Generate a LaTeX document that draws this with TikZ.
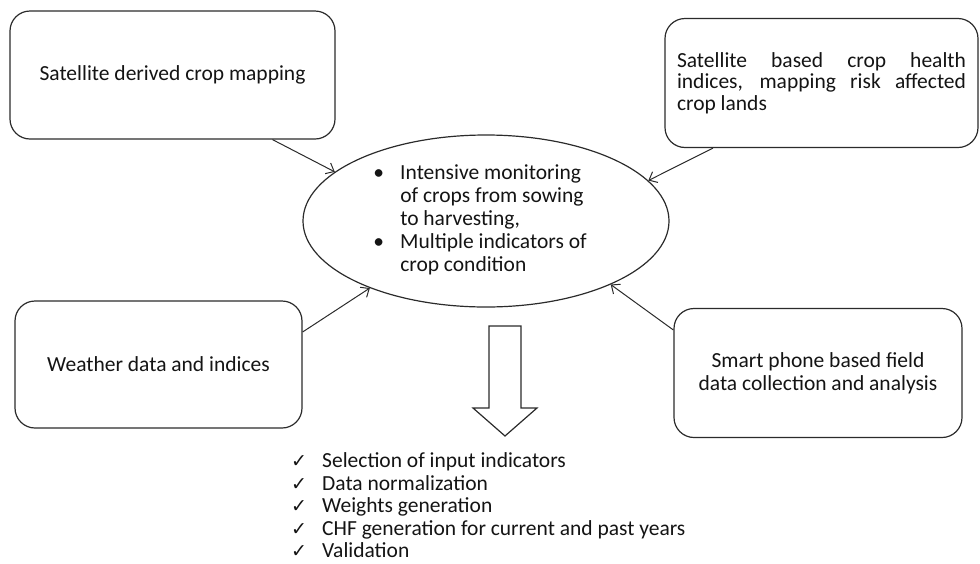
\documentclass[tikz,border=0pt]{standalone}
\usepackage{fontspec}
\setmainfont{Carlito}
\newfontfamily\tickfont{DejaVu Sans}
\usetikzlibrary{arrows.meta,shapes.geometric}
\definecolor{inkline}{HTML}{2B2B2B}
\definecolor{inktext}{HTML}{141414}
\tikzset{
  sourcebox/.style={draw=inkline,line width=1.2pt,rounded corners=20pt,align=center,
    inner sep=0pt,text=inktext},
  focusnode/.style={draw=inkline,line width=1.2pt,ellipse,inner sep=0pt,text=inktext,
    minimum width=366pt,minimum height=172pt},
  feedarrow/.style={-{Straight Barb[length=7pt,width=12pt]},line width=1pt,draw=inkline},
  hollowarrow/.style={draw=inkline,line width=1.2pt,fill=white,line join=miter}
}
\newcommand{\tickmark}{{\tickfont\fontsize{19}{19}\selectfont ✓}}

\begin{document}
\begin{tikzpicture}[x=1pt,y=-1pt,font=\fontsize{21.5}{23}\selectfont]
\path[use as bounding box] (0,0) rectangle (980,563);
% input sources
\node[sourcebox,minimum width=325pt,minimum height=128pt] (cropmap) at (172.5,75)
  {Satellite derived crop mapping};
\node[sourcebox,minimum width=313pt,minimum height=129pt,text width=289pt,align=justify,
  font=\fontsize{21.5}{21.5}\selectfont] (healthidx) at (821.5,83)
  {Satellite based crop health\linebreak indices, mapping risk affected\linebreak crop lands};
\node[sourcebox,minimum width=287pt,minimum height=127pt] (weather) at (158.5,364.5)
  {Weather data and indices};
\node[sourcebox,minimum width=288pt,minimum height=129pt] (phone) at (818,373)
  {Smart phone based field\\data collection and analysis};
% monitoring core
\node[focusnode] (crop) at (486,221) {\begin{tabular}{@{}p{27pt}@{}l@{\hspace{12pt}}}
\textbullet & Intensive monitoring\\
 & of crops from sowing\\
 & to harvesting,\\
\textbullet & Multiple indicators of\\
 & crop condition
\end{tabular}};
\draw[feedarrow] ([xshift=100pt]cropmap.south) -- (crop.162.8);
\draw[feedarrow] ([xshift=-108.5pt]healthidx.south) -- (crop.14);
\draw[feedarrow] ([yshift=32.5pt]weather.east) -- (crop.210.8);
\draw[feedarrow] ([yshift=43pt]phone.west) -- (crop.333.6);
% block arrow to the steps
\draw[hollowarrow] (489,326) -- (521,326) -- (521,408) -- (537,408) -- (505,436)
  -- (473,408) -- (489,408) -- cycle;
\node[anchor=north west,inner sep=0pt,text=inktext,font=\fontsize{21.5}{22.5}\selectfont]
  (steps) at (291,452) {\begin{tabular}{@{}p{31pt}@{}l@{}}
\tickmark & Selection of input indicators\\
\tickmark & Data normalization\\
\tickmark & Weights generation\\
\tickmark & CHF generation for current and past years\\
\tickmark & Validation
\end{tabular}};
\end{tikzpicture}
\end{document}
